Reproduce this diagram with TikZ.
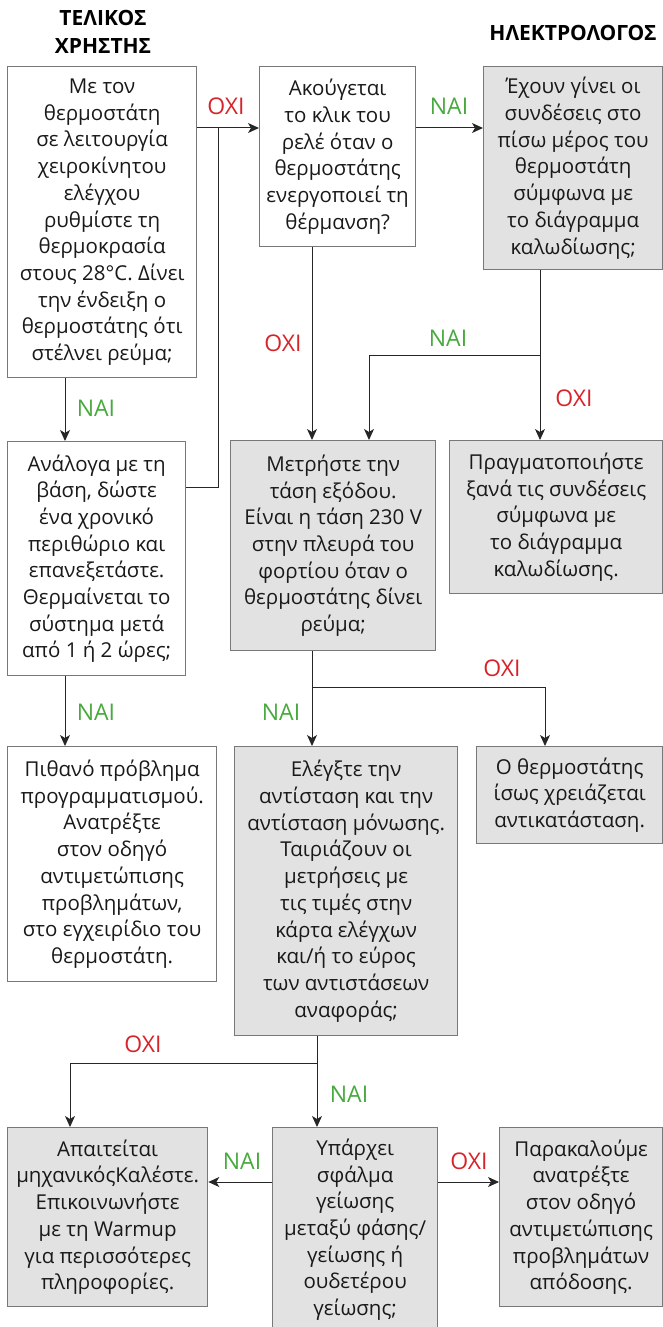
\documentclass[tikz,border=0pt]{standalone}
\usepackage{fontspec}
\setmainfont{Open Sans}
\definecolor{noredd}{RGB}{214,36,42}
\definecolor{yesgreen}{RGB}{72,170,62}
\definecolor{boxgrey}{RGB}{226,226,226}
\definecolor{edgegrey}{RGB}{120,120,120}
\usetikzlibrary{arrows.meta, positioning}

\begin{document}
\begin{tikzpicture}[x=1pt, y=-1pt,
  box/.style={draw=edgegrey, line width=1.3pt, anchor=north west, align=center, inner sep=0pt,
    font=\fontsize{20.5}{26.7}\selectfont, text=black!90},
  greybox/.style={box, fill=boxgrey},
  title/.style={font=\fontsize{21}{27.5}\selectfont\bfseries, align=center},
  arr/.style={-{Stealth[length=11pt, width=10pt, inset=3pt]}, line width=1pt, black!85},
  line/.style={line width=1pt, black!85},
  yes/.style={font=\fontsize{23}{24}\selectfont, text=yesgreen},
  no/.style={font=\fontsize{23}{24}\selectfont, text=noredd},
]
  \useasboundingbox (0,0) rectangle (663,1327);

  % headings
  \node[title] (user) at (103,32) {ΤΕΛΙΚΟΣ\\ΧΡΗΣΤΗΣ};
  \node[title] (electrician) at (573,33) {ΗΛΕΚΤΡΟΛΟΓΟΣ};

  % first row
  \node[box, minimum width=189, minimum height=311] (setcheck) at (7,66)
    {Με τον\\θερμοστάτη\\σε λειτουργία\\χειροκίνητου\\ελέγχου\\ρυθμίστε τη\\θερμοκρασία\\στους 28°C. Δίνει\\την ένδειξη ο\\θερμοστάτης ότι\\στέλνει ρεύμα;};
  \node[box, minimum width=156, minimum height=180] (relay) at (259,66)
    {Ακούγεται\\το κλικ του\\ρελέ όταν ο\\θερμοστάτης\\ενεργοποιεί τη\\θέρμανση?};
  \node[greybox, minimum width=179, minimum height=203] (wiring) at (483,66)
    {Έχουν γίνει οι\\συνδέσεις στο\\πίσω μέρος του\\θερμοστάτη\\σύμφωνα με\\το διάγραμμα\\καλωδίωσης;};

  % second row
  \node[box, minimum width=178, minimum height=234] (wait) at (7,441)
    {Ανάλογα με τη\\βάση, δώστε\\ένα χρονικό\\περιθώριο και\\επανεξετάστε.\\Θερμαίνεται το\\σύστημα μετά\\από 1 ή 2 ώρες;};
  \node[greybox, minimum width=205, minimum height=210] (voltage) at (230,440)
    {Μετρήστε την\\τάση εξόδου.\\Είναι η τάση 230 V\\στην πλευρά του\\φορτίου όταν ο\\θερμοστάτης δίνει\\ρεύμα;};
  \node[greybox, minimum width=213, minimum height=153] (rewire) at (449,440)
    {Πραγματοποιήστε\\ξανά τις συνδέσεις\\σύμφωνα με\\το διάγραμμα\\καλωδίωσης.};

  % third row
  \node[box, minimum width=209, minimum height=235] (program) at (7,746)
    {Πιθανό πρόβλημα\\προγραμματισμού.\\Ανατρέξτε\\στον οδηγό\\αντιμετώπισης\\προβλημάτων,\\στο εγχειρίδιο του\\θερμοστάτη.};
  \node[greybox, minimum width=223, minimum height=289] (resist) at (234,746)
    {Ελέγξτε την\\αντίσταση και την\\αντίσταση μόνωσης.\\Ταιριάζουν οι\\μετρήσεις με\\τις τιμές στην\\κάρτα ελέγχων\\και/ή το εύρος\\των αντιστάσεων\\αναφοράς;};
  \node[greybox, minimum width=186, minimum height=97] (replace) at (476,746)
    {Ο θερμοστάτης\\ίσως χρειάζεται\\αντικατάσταση.};

  % last row
  \node[greybox, minimum width=200, minimum height=179] (engineer) at (7,1127)
    {Απαιτείται\\μηχανικόςΚαλέστε.\\Επικοινωνήστε\\με τη Warmup\\για περισσότερες\\πληροφορίες.};
  \node[greybox, minimum width=165, minimum height=204] (earth) at (272,1127)
    {Υπάρχει\\σφάλμα\\γείωσης\\μεταξύ φάσης/\\γείωσης ή\\ουδετέρου\\γείωσης;};
  \node[greybox, minimum width=163, minimum height=179] (perf) at (499,1127)
    {Παρακαλούμε\\ανατρέξτε\\στον οδηγό\\αντιμετώπισης\\προβλημάτων\\απόδοσης.};

  % routing points
  \coordinate (toprow) at (0,128);
  \coordinate (join) at (218,128);
  \coordinate (waitout) at (0,487);
  \coordinate (relaycol) at (312,0);
  \coordinate (wiringcol) at (540,0);
  \coordinate (okcol) at (369,0);
  \coordinate (okrow) at (0,355);
  \coordinate (userA) at (65,0);
  \coordinate (voltrow) at (0,687);
  \coordinate (failcol) at (545,0);
  \coordinate (resistcol) at (317,0);
  \coordinate (resistrow) at (0,1063);
  \coordinate (engcol) at (70,0);
  \coordinate (earthrow) at (0,1182);

  % connectors
  \draw[arr] (setcheck.east |- toprow) -- (relay.west |- toprow);
  \draw[line] (wait.east |- waitout) -| (join);
  \draw[arr] (relay.east |- toprow) -- (wiring.west |- toprow);
  \draw[arr] (relay.south -| relaycol) -- (voltage.north -| relaycol);
  \draw[arr] (wiring.south -| wiringcol) -- (rewire.north -| wiringcol);
  \draw[arr] (wiringcol |- okrow) -| (voltage.north -| okcol);
  \draw[arr] (setcheck.south -| userA) -- (wait.north -| userA);
  \draw[arr] (voltage.south -| relaycol) -- (resist.north -| relaycol);
  \draw[arr] (relaycol |- voltrow) -| (replace.north -| failcol);
  \draw[arr] (wait.south -| userA) -- (program.north -| userA);
  \draw[arr] (resist.south -| resistcol) -- (earth.north -| resistcol);
  \draw[arr] (resistcol |- resistrow) -| (engineer.north -| engcol);
  \draw[arr] (earth.west |- earthrow) -- (engineer.east |- earthrow);
  \draw[arr] (earth.east |- earthrow) -- (perf.west |- earthrow);

  % answers
  \node[no] (no1) at (226,106) {ΟΧΙ};
  \node[yes] (yes1) at (449,106) {ΝΑΙ};
  \node[no] (no2) at (283,343) {ΟΧΙ};
  \node[yes] (yes2) at (448,338) {ΝΑΙ};
  \node[no] (no3) at (574,398) {ΟΧΙ};
  \node[yes] (yes3) at (96,408) {ΝΑΙ};
  \node[no] (no4) at (502,668) {ΟΧΙ};
  \node[yes] (yes4) at (281,712) {ΝΑΙ};
  \node[yes] (yes5) at (96,712) {ΝΑΙ};
  \node[no] (no5) at (143,1044) {ΟΧΙ};
  \node[yes] (yes6) at (349,1094) {ΝΑΙ};
  \node[yes] (yes7) at (242,1161) {ΝΑΙ};
  \node[no] (no6) at (469,1161) {ΟΧΙ};
\end{tikzpicture}
\end{document}
